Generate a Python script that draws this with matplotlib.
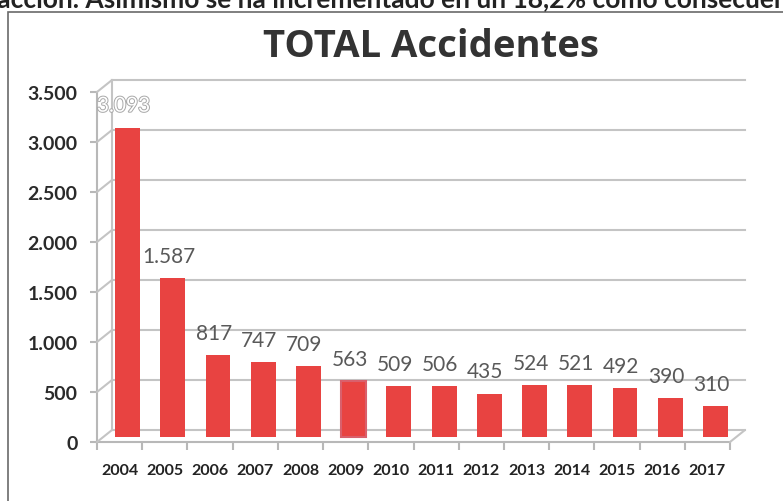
import numpy as np
import matplotlib as mpl
import matplotlib.pyplot as plt
import matplotlib.patheffects as pe
from matplotlib.patches import Rectangle
from matplotlib.transforms import ScaledTranslation

# datos
years = ['2004', '2005', '2006', '2007', '2008', '2009', '2010',
         '2011', '2012', '2013', '2014', '2015', '2016', '2017']
accidents = [3093, 1587, 817, 747, 709, 563, 509, 506, 435, 524, 521, 492, 390, 310]
yticks = [0, 500, 1000, 1500, 2000, 2500, 3000, 3500]
ytick_labels = ['0', '500', '1.000', '1.500', '2.000', '2.500', '3.000', '3.500']

title = 'TOTAL Accidentes'
top_text = 'en acción. Asimismo se ha incrementado en un 18,2% como consecuencia'

mpl.rcParams['font.family'] = ['Lato', 'DejaVu Sans']

W, H = 783, 502
fig = plt.figure(figsize=(W / 100, H / 100), dpi=100)
fig.patch.set_facecolor('white')

# ejes: x -0.5 -> 97px, 13.5 -> 730px ; y 0 -> 443px, 3500 -> 93px
ax = fig.add_axes([97 / W, (H - 443) / H, 633 / W, 350 / H])
ax.set_xlim(-0.5, len(years) - 0.5)
ax.set_ylim(0, 3500)
ax.patch.set_alpha(0)
for s in ['top', 'right', 'bottom']:
    ax.spines[s].set_visible(False)
ax.spines['left'].set_color('#b8b8b8')
ax.spines['left'].set_linewidth(1.5)

grid_c = '#c4c4c4'
# desplazamiento de profundidad (pared del fondo)
back = ax.transData + ScaledTranslation(15 / 100, 12 / 100, fig.dpi_scale_trans)
mid = ax.transData + ScaledTranslation(8 / 100, 5 / 100, fig.dpi_scale_trans)

x0, x1 = -0.5, len(years) - 0.5
for v in yticks:
    # diagonal del frente al fondo
    ax.annotate('', xy=(x0, v), xycoords=back, xytext=(x0, v), textcoords=ax.transData,
                arrowprops=dict(arrowstyle='-', color=grid_c, lw=1.5, shrinkA=0, shrinkB=0))
    if v > 0:
        ax.plot([x0, x1], [v, v], color=grid_c, lw=1.5, transform=back, clip_on=False)

# pared izquierda del fondo y suelo
ax.plot([x0, x0], [0, 3500], color=grid_c, lw=1.5, transform=back, clip_on=False)
ax.plot([x0, x1], [0, 0], color=grid_c, lw=1.5, transform=back, clip_on=False)
ax.plot([x0, x1], [0, 0], color='#b8b8b8', lw=1.5, clip_on=False)
ax.annotate('', xy=(x1, 0), xycoords=back, xytext=(x1, 0), textcoords=ax.transData,
            arrowprops=dict(arrowstyle='-', color=grid_c, lw=1.5, shrinkA=0, shrinkB=0))

# barras
x = np.arange(len(years))
bars = ax.bar(x, accidents, width=0.55, color='#e84341', transform=mid, zorder=3,
              clip_on=False)
bars[5].set_edgecolor('#d9606c')
bars[5].set_linewidth(1.5)

# etiquetas de datos
for i, v in enumerate(accidents):
    lab = f'{v:,}'.replace(',', '.')
    t = ax.annotate(lab, xy=(i, v), xytext=(4, 27), textcoords='offset pixels',
                    ha='center', va='center', fontsize=15, color='#595959', zorder=4)
    if i == 0:
        t.set_color('white')
        t.set_path_effects([pe.withStroke(linewidth=1.4, foreground='#a8a8a8')])

# ticks
ax.set_yticks(yticks)
ax.set_yticklabels(ytick_labels)
ax.tick_params(axis='y', length=5, width=1.5, color='#b8b8b8', pad=9,
               labelsize=14, labelcolor='#2a2a2a')
for t in ax.get_yticklabels():
    t.set_fontweight('bold')

ax.set_xticks(x)
ax.set_xticklabels(years)
ax.set_xticks(np.arange(len(years) + 1) - 0.5, minor=True)
ax.tick_params(axis='x', which='major', length=0, pad=15, labelsize=11.5,
               labelcolor='#222222')
ax.tick_params(axis='x', which='minor', length=6, width=1.5, color='#b8b8b8')
for t in ax.get_xticklabels():
    t.set_fontweight('bold')

# titulo
fig.text(431 / W, 1 - 57 / H, title, ha='center', va='baseline', fontsize=27.5,
         fontweight='bold', color='#333333', family=['Open Sans', 'DejaVu Sans'])

# marco del grafico
fig.patches.append(Rectangle((8 / W, -0.05), 1.2, 1 - 13 / H + 0.05, transform=fig.transFigure,
                             fill=False, edgecolor='#6a6a6a', lw=1.2))

# texto cortado arriba
fig.text(0.5, 1 - 7 / H, top_text, ha='center', va='baseline', fontsize=19,
         fontweight='bold', color='#222222')

fig.savefig('out.png', dpi=100)
